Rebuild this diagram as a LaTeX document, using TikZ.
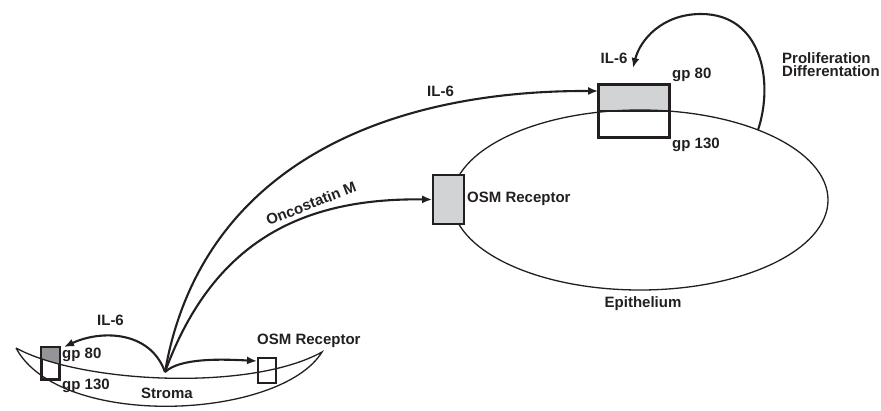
\documentclass[tikz,border=0pt]{standalone}
\usepackage{fontspec}
\setmainfont{Liberation Sans}
\usetikzlibrary{arrows.meta}
\definecolor{ink}{HTML}{231F20}
\definecolor{lgray}{HTML}{D1D3D4}
\definecolor{mgray}{HTML}{939598}
\begin{document}
\begin{tikzpicture}[x=1pt,y=-1pt,
  lbl/.style={inner sep=0pt, font=\fontsize{15}{15}\selectfont\bfseries, text=ink},
  membrane/.style={draw=ink, line width=1.3pt},
  rbox/.style={draw=ink, line width=1.7pt, inner sep=0pt},
  sig/.style={draw=ink, line width=2.1pt, -{Latex[length=10pt,width=8pt]}},
]
\useasboundingbox (0,0) rectangle (881,410);

% ---------- Epithelium ----------
\node[rbox, fill=lgray, minimum width=70, minimum height=26] (g80) at (634,98) {};
\node[rbox, fill=white, minimum width=70, minimum height=26] (g130) at (634,124) {};
\draw[membrane] (640,200) ellipse [x radius=188, y radius=90];
\node[rbox, fill=lgray, minimum width=31, minimum height=49] (osm) at (448.5,199.5) {};
\draw[rbox] (g80.north west) rectangle (g130.south east);

\node[lbl, anchor=mid west] (l80) at (672,76) {gp 80};
\node[lbl, anchor=mid west] (l130) at (672,146) {gp 130};
\node[lbl, anchor=mid] (lil6a) at (614,61) {IL-6};
\node[lbl, anchor=mid west] (lpro) at (782,61) {Proliferation};
\node[lbl, anchor=mid west] (ldif) at (782,74) {Differentation};
\node[lbl, anchor=mid west] (losm) at (467,200) {OSM Receptor};
\node[lbl, anchor=mid] (lepi) at (643,305) {Epithelium};

\coordinate (lp) at (758,130);
\coordinate (tipa) at (633,68);
\draw[sig] (lp) .. controls (774,82) and (762,14) .. (701,14)
  .. controls (662,14) and (640,40) .. (tipa);

% ---------- Stroma ----------
\node[rbox, fill=white, minimum width=17, minimum height=31] (sg80) at (50.5,363.5) {};
\begin{scope}
  \clip (16,348) .. controls (80,383) and (250,392) .. (322,352) -- (322,300) -- (16,300) -- cycle;
  \fill[mgray] (sg80.north west) rectangle (sg80.south east);
\end{scope}
\draw[rbox] (sg80.north west) rectangle (sg80.south east);
\node[rbox, fill=white, minimum width=18, minimum height=25] (sosm) at (267,370.5) {};
\draw[membrane] (16,348) .. controls (80,383) and (250,392) .. (322,352)
  .. controls (280,420) and (60,430) .. (16,348);

\node[lbl, anchor=mid west] (s80) at (62,356) {gp 80};
\node[lbl, anchor=mid west] (s130) at (62,387) {gp 130};
\node[lbl, anchor=mid] (sil6) at (110.5,323) {IL-6};
\node[lbl, anchor=mid] (sstr) at (167,396) {Stroma};
\node[lbl, anchor=mid west] (sosml) at (257,342) {OSM Receptor};

\coordinate (o) at (165,372);
\coordinate (tips) at (64,347);
\coordinate (tipo) at (257,361);
\draw[sig] (o) .. controls (150,330) and (100,330) .. (tips);
\draw[sig] (o) .. controls (180,358) and (220,359) .. (tipo);

% ---------- long-range signals ----------
\draw[sig] (o) .. controls (200,170) and (380,90) .. (g80.169);
\draw[sig] (o) .. controls (215,235) and (310,198) .. (osm.west);
\node[lbl, anchor=mid] (lil6b) at (440.5,94) {IL-6};
\node[lbl, anchor=mid, rotate=21] (lonc) at (312,206) {Oncostatin M};
\end{tikzpicture}
\end{document}
